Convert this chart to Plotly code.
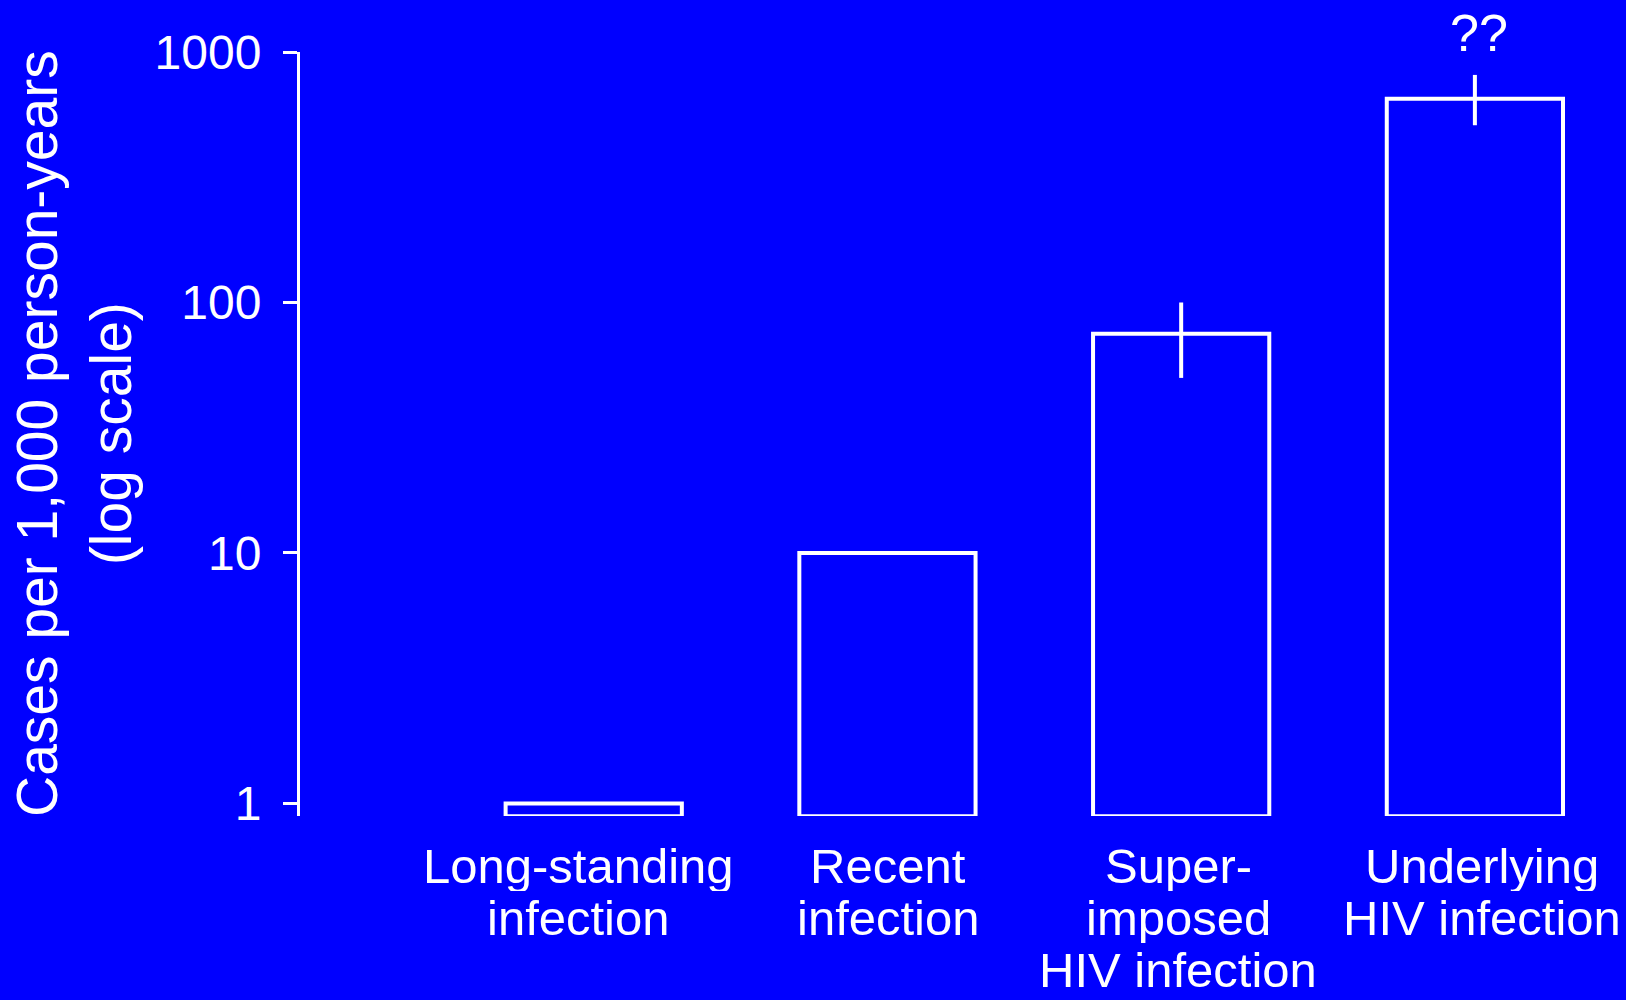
import plotly.graph_objects as go

# data
categories = ["Long-standing\ninfection", "Recent\ninfection",
              "Super-\nimposed\nHIV infection", "Underlying\nHIV infection"]
rates = [1, 10, 75, 650]          # cases per 1,000 person-years
upper = [None, None, 100, 810]    # upper end of error bar
lower = [None, None, 50, 510]     # lower end of error bar
ytick_vals = [1, 10, 100, 1000]
ytick_text = ["1", "10", "100", "1000"]

BASE = 0.89  # bars start at the bottom of the log axis
FONT = "Liberation Sans, Arial, sans-serif"
BLUE = "#0000FF"
LABEL_NUDGE = [-15, 1, -3, 7]  # small horizontal nudges of the category labels (px)

x = list(range(len(categories)))
err_plus = [(u - r) if u is not None else 0 for u, r in zip(upper, rates)]
err_minus = [(r - l) if l is not None else 0 for l, r in zip(lower, rates)]

fig = go.Figure()
fig.add_trace(go.Bar(
    x=x,
    y=[r - BASE for r in rates],
    base=BASE,
    width=0.6,
    marker=dict(color="rgba(0,0,0,0)", line=dict(color="white", width=4)),
    error_y=dict(type="data", symmetric=False, array=err_plus,
                 arrayminus=err_minus, color="white", thickness=4, width=0),
    cliponaxis=False,
    hoverinfo="skip",
    showlegend=False,
))

# category labels, one annotation per line so the line spacing stays tight
annotations = []
for i, label in enumerate(categories):
    for j, line in enumerate(label.split("\n")):
        annotations.append(dict(
            x=i, xref="x", y=0, yref="paper", text=line, showarrow=False,
            xanchor="center", yanchor="middle", height=50,
            xshift=LABEL_NUDGE[i], yshift=-50 - 52 * j,
            font=dict(family=FONT, size=49, color="white"),
        ))

annotations.append(dict(
    x=3, xref="x", y=1, yref="paper", text="??", showarrow=False,
    xanchor="center", yanchor="middle", yshift=19, xshift=4,
    font=dict(family=FONT, size=52, color="white"),
))

annotations.append(dict(
    x=-0.1725, xref="paper", y=0.5, yref="paper",
    text="Cases per 1,000 person-years<br>(log scale)",
    textangle=-90, showarrow=False, xanchor="center", yanchor="middle",
    font=dict(family=FONT, size=57, color="white"),
))

fig.update_layout(
    width=1626, height=1000,
    margin=dict(l=300, r=16, t=52, b=184),
    paper_bgcolor=BLUE, plot_bgcolor=BLUE,
    xaxis=dict(visible=False, range=[-1.0, 3.46]),
    yaxis=dict(
        type="log", range=[-0.05, 3],
        tickvals=ytick_vals, ticktext=ytick_text,
        ticks="outside", ticklen=14, tickwidth=3, tickcolor="white",
        showline=True, linecolor="white", linewidth=3,
        showgrid=False, zeroline=False,
        ticklabelstandoff=12,
        tickfont=dict(family=FONT, size=48, color="white"),
    ),
    annotations=annotations,
)

# drop the browser's default page margin so the chart fills the window
fig.write_html("out.html", config={"displayModeBar": False},
               post_script="document.body.style.margin='0';")
